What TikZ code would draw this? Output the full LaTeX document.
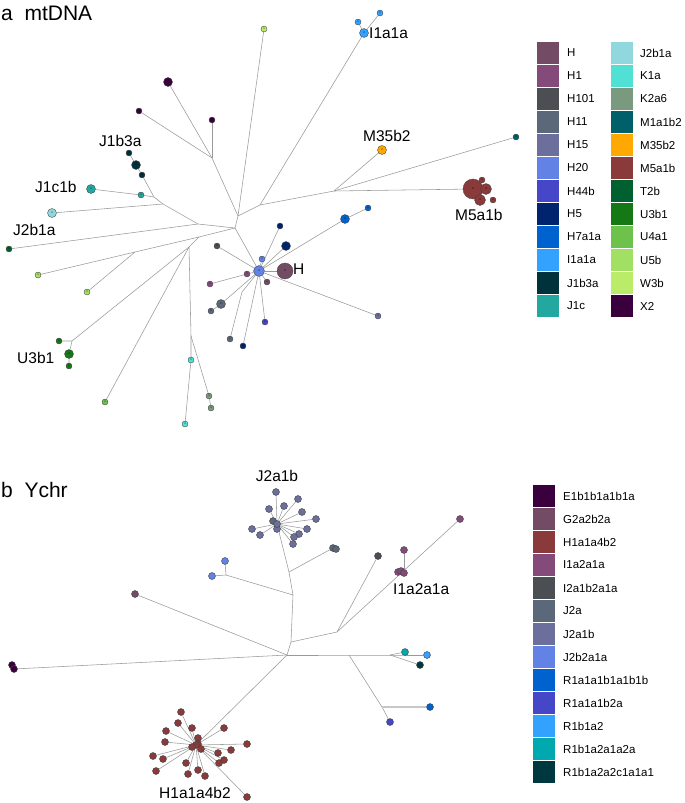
\documentclass[tikz,border=0pt]{standalone}
\usepackage{fontspec}
\setmainfont{Liberation Sans}
\usetikzlibrary{backgrounds}
% mtDNA haplogroups
\definecolor{mH}{HTML}{744B64}
\definecolor{mHa}{HTML}{834A7A}
\definecolor{mHb}{HTML}{4B4E53}
\definecolor{mHc}{HTML}{5B687A}
\definecolor{mHd}{HTML}{6C6F9C}
\definecolor{mHe}{HTML}{6282E6}
\definecolor{mHf}{HTML}{4646C8}
\definecolor{mHg}{HTML}{00246E}
\definecolor{mHh}{HTML}{0062CE}
\definecolor{mI}{HTML}{33A2FF}
\definecolor{mJa}{HTML}{00323C}
\definecolor{mJb}{HTML}{22A8A0}
\definecolor{mJc}{HTML}{90D8DE}
\definecolor{mKa}{HTML}{50E0D4}
\definecolor{mKb}{HTML}{7A9A80}
\definecolor{mMa}{HTML}{00606A}
\definecolor{mMb}{HTML}{FFA800}
\definecolor{mMc}{HTML}{8A3A3A}
\definecolor{mT}{HTML}{006030}
\definecolor{mUa}{HTML}{147814}
\definecolor{mUb}{HTML}{6CC24A}
\definecolor{mUc}{HTML}{A2E064}
\definecolor{mW}{HTML}{BAEC6A}
\definecolor{mX}{HTML}{3A003E}
% Ychr haplogroups
\definecolor{yE}{HTML}{3A003E}
\definecolor{yG}{HTML}{744B64}
\definecolor{yH}{HTML}{8A3A3A}
\definecolor{yIa}{HTML}{834A7A}
\definecolor{yIb}{HTML}{4B4E53}
\definecolor{yJa}{HTML}{5B687A}
\definecolor{yJb}{HTML}{6C6F9C}
\definecolor{yJc}{HTML}{6282E6}
\definecolor{yRa}{HTML}{0062CE}
\definecolor{yRb}{HTML}{4646C8}
\definecolor{yRc}{HTML}{33A2FF}
\definecolor{yRd}{HTML}{00A8B0}
\definecolor{yRe}{HTML}{00383F}
\tikzset{
  hap/.style={circle, draw=black!75, line width=0.35pt, fill=#1, inner sep=0pt, font=\fontsize{2.6}{3}\selectfont},
  n1/.style={minimum size=6pt},
  n2/.style={minimum size=9pt},
  n3/.style={minimum size=11pt},
  n5/.style={minimum size=16pt},
  n9/.style={minimum size=20pt},
  ynode/.style={circle, draw=black!75, line width=0.4pt, fill=#1, inner sep=0pt, minimum size=7pt},
  link/.style={draw=black!40, line width=0.55pt},
  lab/.style={font=\fontsize{15.5}{17}\selectfont, anchor=west, inner sep=0pt},
  panel/.style={font=\fontsize{21}{24}\selectfont, anchor=base west, inner sep=0pt},
  key/.style={minimum size=22pt, inner sep=0pt},
  keytext/.style={font=\fontsize{11.5}{13}\selectfont, anchor=west, inner sep=0pt},
}
\begin{document}
\begin{tikzpicture}[x=1pt, y=-1pt]
  \useasboundingbox (0,0) rectangle (685,803);
  \node[panel] (ta) at (1,20) {a\ \ mtDNA};
  \node[panel] (tb) at (1,497) {b\ \ Ychr};

  % ---- mtDNA network ----
  \coordinate (c1) at (235,228);
  \coordinate (c2) at (238,216);
  \coordinate (c3) at (260,205);
  \coordinate (c4) at (334,191);
  \coordinate (cX) at (212,158);
  \coordinate (cJ) at (198,224);
  \coordinate (cJb) at (163,204);
  \coordinate (cJc) at (154,197);
  \coordinate (cU) at (199,237);
  \coordinate (cUb) at (135,252);
  \coordinate (cV) at (189,247);
  \coordinate (cW) at (72,341);
  \coordinate (cK) at (191,336);
  \coordinate (cH) at (242,292);

  \node[hap=mW, n1] (w3b) at (264,29) {1};
  \node[hap=mI, n2] (i1a) at (364,33) {2};
  \node[hap=mI, n1] (i1b) at (358,22) {1};
  \node[hap=mI, n1] (i1c) at (380,13) {1};
  \node[hap=mX, n2] (x2a) at (168,82) {2};
  \node[hap=mX, n1] (x2b) at (139,111) {1};
  \node[hap=mX, n1] (x2c) at (212,120) {1};
  \node[hap=mJa, n1] (j3a) at (129,153) {1};
  \node[hap=mJa, n2] (j3b) at (136,165) {2};
  \node[hap=mJa, n1] (j3c) at (142,175) {1};
  \node[hap=mJb, n2] (jc1b) at (91,189) {2};
  \node[hap=mJb, n1] (jc) at (141,195) {1};
  \node[hap=mJc, n2] (j2b) at (52,213) {2};
  \node[hap=mT, n1] (t2b) at (9,249) {1};
  \node[hap=mUc, n1] (u5a) at (38,275) {1};
  \node[hap=mUc, n1] (u5b) at (87,292) {1};
  \node[hap=mUa, n1] (u3a) at (59,341) {1};
  \node[hap=mUa, n2] (u3b) at (69,354) {2};
  \node[hap=mUa, n1] (u3c) at (69,366) {1};
  \node[hap=mUb, n1] (u4) at (105,402) {1};
  \node[hap=mKa, n1] (k1a) at (191,360) {1};
  \node[hap=mKa, n1] (k1b) at (185,424) {1};
  \node[hap=mKb, n1] (k2a) at (209,396) {1};
  \node[hap=mKb, n1] (k2b) at (211,408) {1};
  \node[hap=mMb, n2] (m35) at (382,150) {2};
  \node[hap=mMa, n1] (m1) at (516,137) {1};
  \node[hap=mMc, n9] (m5a) at (473,189) {9};
  \node[hap=mMc, n1] (m5b) at (482,180) {1};
  \node[hap=mMc, n3] (m5c) at (486,189) {3};
  \node[hap=mMc, n3] (m5d) at (480,200) {3};
  \node[hap=mMc, n1] (m5e) at (493,200) {1};
  \node[hap=mHe, n3] (h20) at (259,271) {3};
  \node[hap=mH, n5] (hh) at (285,271) {5};
  \node[hap=mHe, n1] (h20b) at (262,259) {1};
  \node[hap=mHg, n1] (h5a) at (280,226) {1};
  \node[hap=mHg, n2] (h5b) at (286,246) {2};
  \node[hap=mHh, n2] (h7a) at (345,219) {2};
  \node[hap=mHh, n1] (h7b) at (368,208) {1};
  \node[hap=mHb, n1] (h101) at (217,246) {1};
  \node[hap=mHa, n1] (h1a) at (247,274) {1};
  \node[hap=mHa, n1] (h1b) at (210,284) {1};
  \node[hap=mH, n1] (hb) at (267,282) {1};
  \node[hap=mHc, n2] (h11a) at (221,304) {2};
  \node[hap=mHc, n1] (h11b) at (211,311) {1};
  \node[hap=mHf, n1] (h44) at (265,322) {1};
  \node[hap=mHc, n1] (h11c) at (230,339) {1};
  \node[hap=mHg, n1] (h5c) at (243,346) {1};
  \node[hap=mHd, n1] (h15) at (378,316) {1};

  \node[lab] (lI) at (369,33) {I1a1a};
  \node[lab] (lM35) at (363,136) {M35b2};
  \node[lab] (lJ1b) at (99,141) {J1b3a};
  \node[lab] (lJ1c) at (35,187) {J1c1b};
  \node[lab] (lJ2b) at (13,230) {J2b1a};
  \node[lab] (lM5) at (455,215) {M5a1b};
  \node[lab] (lU3) at (17,358) {U3b1};
  \node[lab] (lH) at (293,269) {H};

  % ---- Ychr network ----
  \coordinate (yc) at (287,655);
  \coordinate (ya) at (291,642);
  \coordinate (yb) at (293,595);
  \coordinate (yd) at (289,572);
  \coordinate (yj) at (226,575);
  \coordinate (ye) at (337,632);
  \coordinate (yf) at (349,655);
  \coordinate (yg) at (390,655);
  \coordinate (yh) at (382,707);

  \node[ynode=yE] (e1) at (12,665) {};
  \node[ynode=yE] (e2) at (14,669) {};
  \node[ynode=yG] (g2) at (135,594) {};
  \foreach \p [count=\i] in {(276,492),(284,506),(298,499),(269,509),(302,512),(316,519),(252,529),(260,535),(277,529),(307,529),(299,534),(294,537),(293,544)}
    \node[ynode=yJb] (jb\i) at \p {};
  \node[ynode=yJa] (ja0) at (273,521) {};
  \node[ynode=yJb] (jb0) at (277,524) {};
  \node[ynode=yJa] (ja1) at (333,548) {};
  \node[ynode=yJa] (ja2) at (336,549) {};
  \node[ynode=yJc] (jc1) at (212,576) {};
  \node[ynode=yJc] (jc2) at (225,561) {};
  \node[ynode=yIb] (ib) at (378,556) {};
  \node[ynode=yIa] (ia1) at (398,572) {};
  \node[ynode=yIa] (ia2) at (401,571) {};
  \node[ynode=yIa] (ia3) at (404,573) {};
  \node[ynode=yIa] (ia4) at (404,550) {};
  \node[ynode=yIa] (ia5) at (460,519) {};
  \node[ynode=yRc] (r1) at (427,655) {};
  \node[ynode=yRd] (r2) at (405,652) {};
  \node[ynode=yRe] (r3) at (420,665) {};
  \node[ynode=yRb] (r4) at (390,722) {};
  \node[ynode=yRa] (r5) at (430,707) {};
  \foreach \p [count=\i] in {(181,712),(178,723),(192,728),(224,728),(166,731),(165,742),(198,738),(247,744),(231,750),(218,753),(153,756),(163,759),(186,763),(224,760),(219,763),(156,771),(198,770),(188,774),(205,776),(247,797)}
    \node[ynode=yH] (hc\i) at \p {};
  \node[ynode=yH] (hm1) at (198,744) {};
  \node[ynode=yH] (hm2) at (201,749) {};
  \node[ynode=yH] (hc0) at (196,745) {};
  \node[ynode=yH] (hm3) at (192,747) {};

  \node[lab, anchor=center] (lJ2a1b) at (277,476) {J2a1b};
  \node[lab] (lI1a) at (393,589) {I1a2a1a};
  \node[lab] (lH1a) at (159,793) {H1a1a4b2};

  % ---- connectors ----
  \begin{scope}[on background layer]
    \draw[link] (c1) -- (c2) -- (c3) -- (c4) -- (m5a);
    \draw[link] (c4) -- (m35);
    \draw[link] (c4) -- (m1);
    \draw[link] (c3) -- (i1a) -- (i1c);
    \draw[link] (i1a) -- (i1b);
    \draw[link] (c2) -- (w3b);
    \draw[link] (c2) -- (cX) -- (x2a);
    \draw[link] (cX) -- (x2b);
    \draw[link] (cX) -- (x2c);
    \draw[link] (c1) -- (cJ) -- (t2b);
    \draw[link] (cJ) -- (cJb) -- (cJc) -- (jc) -- (jc1b);
    \draw[link] (cJb) -- (j2b);
    \draw[link] (cJc) -- (j3c) -- (j3b) -- (j3a);
    \draw[link] (c1) -- (cU) -- (cUb) -- (u5a);
    \draw[link] (cUb) -- (u5b);
    \draw[link] (cU) -- (cV) -- (cW) -- (u3a);
    \draw[link] (cW) -- (u3b) -- (u3c);
    \draw[link] (cV) -- (u4);
    \draw[link] (cV) -- (cK) -- (k1a) -- (k1b);
    \draw[link] (cK) -- (k2a) -- (k2b);
    \draw[link] (c1) -- (h20);
    \foreach \t in {hh,h20b,h5a,h5b,h101,hb,h44,h5c,h15}
      \draw[link] (h20) -- (\t);
    \draw[link] (h20) -- (h7a) -- (h7b);
    \draw[link] (h20) -- (h1a) -- (h1b);
    \draw[link] (h20) -- (h11a) -- (h11b);
    \draw[link] (h20) -- (cH) -- (h11c);

    \draw[link] (yc) -- (e2);
    \draw[link] (yc) -- (g2);
    \draw[link] (yc) -- (ya) -- (yb) -- (yd) -- (jb0);
    \foreach \i in {1,...,13}
      \draw[link] (jb0) -- (jb\i);
    \draw[link] (yd) -- (ja1);
    \draw[link] (yb) -- (yj) -- (jc1);
    \draw[link] (yj) -- (jc2);
    \draw[link] (ya) -- (ye) -- (ib);
    \draw[link] (ye) -- (ia5);
    \draw[link] (ia4) -- (ia3);
    \draw[link] (yc) -- (yf) -- (yg) -- (r1);
    \draw[link] (yg) -- (r2);
    \draw[link] (yg) -- (r3);
    \draw[link] (yf) -- (yh) -- (r4);
    \draw[link, draw=black!22, line width=1.3pt] (yh) -- (r5);
    \draw[link] (yc) -- (hc0);
    \foreach \i in {1,...,20}
      \draw[link] (hc0) -- (hc\i);
  \end{scope}

  % ---- legends ----
  \foreach \nm/\cl [count=\i from 0] in {H/mH, H1/mHa, H101/mHb, H11/mHc, H15/mHd, H20/mHe, H44b/mHf, H5/mHg, H7a1a/mHh, I1a1a/mI, J1b3a/mJa, J1c/mJb} {
    \node[key, fill=\cl] (ka\i) at (548,53+23*\i) {};
    \node[keytext] (kat\i) at (567,53+23*\i) {\nm};
  }
  \foreach \nm/\cl [count=\i from 0] in {J2b1a/mJc, K1a/mKa, K2a6/mKb, M1a1b2/mMa, M35b2/mMb, M5a1b/mMc, T2b/mT, U3b1/mUa, U4a1/mUb, U5b/mUc, W3b/mW, X2/mX} {
    \node[key, fill=\cl] (kb\i) at (621.5,53+23*\i) {};
    \node[keytext] (kbt\i) at (640,53+23*\i) {\nm};
  }
  \foreach \nm/\cl [count=\i from 0] in {E1b1b1a1b1a/yE, G2a2b2a/yG, H1a1a4b2/yH, I1a2a1a/yIa, I2a1b2a1a/yIb, J2a/yJa, J2a1b/yJb, J2b2a1a/yJc, R1a1a1b1a1b1b/yRa, R1a1a1b2a/yRb, R1b1a2/yRc, R1b1a2a1a2a/yRd, R1b1a2a2c1a1a1/yRe} {
    \node[key, fill=\cl] (ky\i) at (544,496+23*\i) {};
    \node[keytext] (kyt\i) at (563,496+23*\i) {\nm};
  }
\end{tikzpicture}
\end{document}
